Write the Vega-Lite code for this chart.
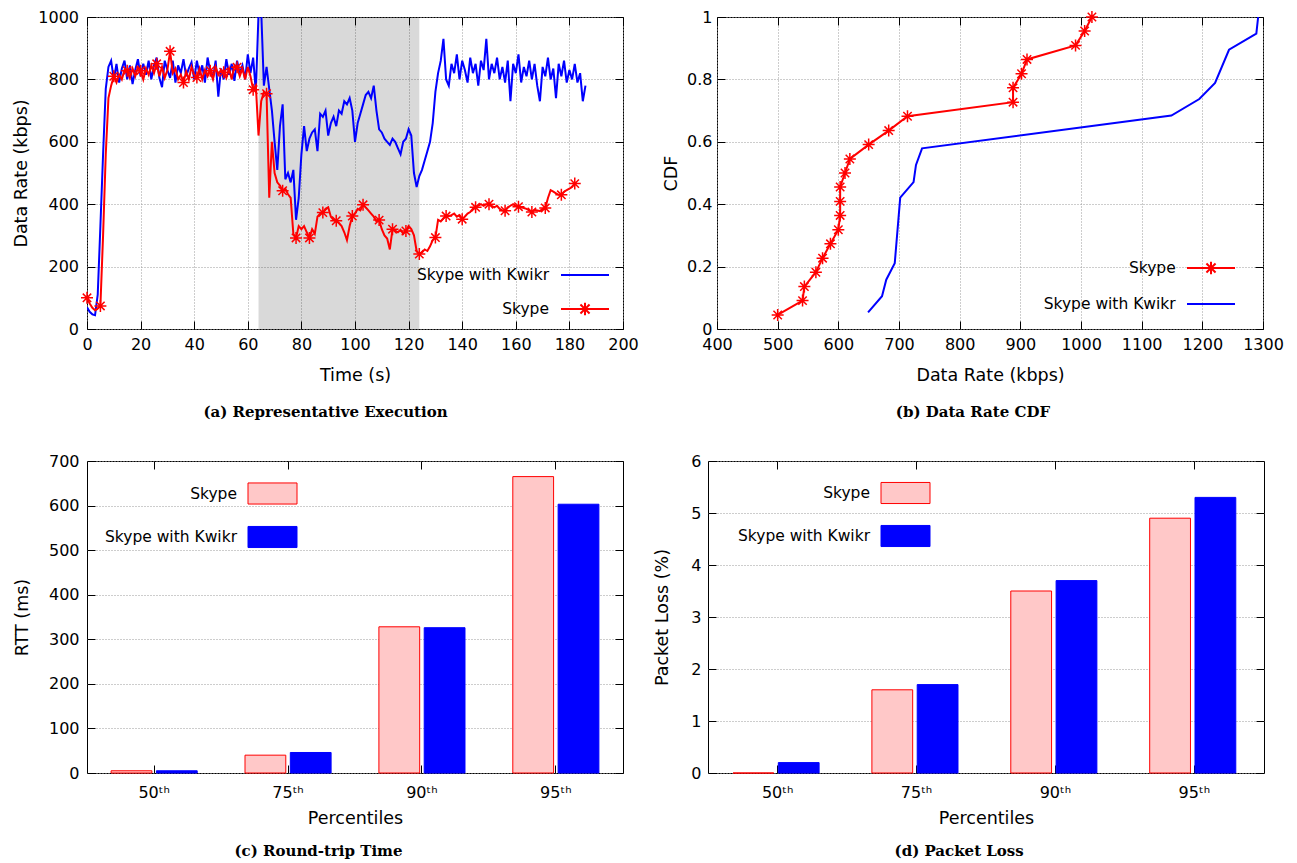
{
"$schema":"https://vega.github.io/schema/vega-lite/v6.json",
"background":"white",
"padding":{"left":12,"top":7,"right":5,"bottom":5},
"config":{
 "view":{"stroke":"#000","strokeWidth":1},
 "axis":{"domain":false,"labelFont":"DejaVu Sans","labelFontSize":16,"labelColor":"#000","titleFont":"DejaVu Sans","titleFontSize":17.5,"titleFontWeight":"normal","titleColor":"#000","tickColor":"#000","tickSize":-8,"tickWidth":1,"gridColor":"#9a9a9a","gridDash":[1,2],"gridWidth":1,"labelFlush":false,"labelOverlap":false,"labelBound":false},
 "legend":{"labelFont":"DejaVu Sans","labelFontSize":15.5,"labelColor":"#000","labelAlign":"right","labelLimit":400,"padding":0},
 "title":{"font":"DejaVu Serif","fontSize":15,"fontWeight":"bold","color":"#000","orient":"bottom","anchor":"middle","frame":"bounds","offset":21}
},
"datasets":{
 "exec":[
{"t":0,"Skype with Kwikr":70,"Skype":100},{"t":1,"Skype with Kwikr":55,"Skype":82},{"t":2,"Skype with Kwikr":47,"Skype":68},{"t":3,"Skype with Kwikr":44,"Skype":60},{"t":4,"Skype with Kwikr":110,"Skype":66},{"t":5,"Skype with Kwikr":330,"Skype":74},{"t":6,"Skype with Kwikr":560,"Skype":300},{"t":7,"Skype with Kwikr":770,"Skype":560},{"t":8,"Skype with Kwikr":840,"Skype":740},{"t":9,"Skype with Kwikr":860,"Skype":780},
{"t":10,"Skype with Kwikr":800,"Skype":810},{"t":11,"Skype with Kwikr":850,"Skype":790},{"t":12,"Skype with Kwikr":790,"Skype":815},{"t":13,"Skype with Kwikr":835,"Skype":800},{"t":14,"Skype with Kwikr":860,"Skype":830},{"t":15,"Skype with Kwikr":800,"Skype":828},{"t":16,"Skype with Kwikr":845,"Skype":805},{"t":17,"Skype with Kwikr":785,"Skype":835},{"t":18,"Skype with Kwikr":830,"Skype":810},{"t":19,"Skype with Kwikr":865,"Skype":840},
{"t":20,"Skype with Kwikr":810,"Skype":828},{"t":21,"Skype with Kwikr":850,"Skype":800},{"t":22,"Skype with Kwikr":815,"Skype":835},{"t":23,"Skype with Kwikr":860,"Skype":815},{"t":24,"Skype with Kwikr":800,"Skype":845},{"t":25,"Skype with Kwikr":845,"Skype":820},{"t":26,"Skype with Kwikr":870,"Skype":850},{"t":27,"Skype with Kwikr":805,"Skype":810},{"t":28,"Skype with Kwikr":775,"Skype":840},{"t":29,"Skype with Kwikr":860,"Skype":805},
{"t":30,"Skype with Kwikr":830,"Skype":830},{"t":31,"Skype with Kwikr":805,"Skype":890},{"t":32,"Skype with Kwikr":860,"Skype":820},{"t":33,"Skype with Kwikr":790,"Skype":835},{"t":34,"Skype with Kwikr":845,"Skype":800},{"t":35,"Skype with Kwikr":820,"Skype":815},{"t":36,"Skype with Kwikr":865,"Skype":790},{"t":37,"Skype with Kwikr":810,"Skype":825},{"t":38,"Skype with Kwikr":835,"Skype":800},{"t":39,"Skype with Kwikr":855,"Skype":840},
{"t":40,"Skype with Kwikr":800,"Skype":815},{"t":41,"Skype with Kwikr":860,"Skype":806},{"t":42,"Skype with Kwikr":815,"Skype":835},{"t":43,"Skype with Kwikr":845,"Skype":800},{"t":44,"Skype with Kwikr":790,"Skype":830},{"t":45,"Skype with Kwikr":870,"Skype":810},{"t":46,"Skype with Kwikr":825,"Skype":828},{"t":47,"Skype with Kwikr":805,"Skype":800},{"t":48,"Skype with Kwikr":860,"Skype":840},{"t":49,"Skype with Kwikr":745,"Skype":815},
{"t":50,"Skype with Kwikr":835,"Skype":830},{"t":51,"Skype with Kwikr":800,"Skype":823},{"t":52,"Skype with Kwikr":865,"Skype":805},{"t":53,"Skype with Kwikr":815,"Skype":835},{"t":54,"Skype with Kwikr":850,"Skype":800},{"t":55,"Skype with Kwikr":795,"Skype":845},{"t":56,"Skype with Kwikr":860,"Skype":839},{"t":57,"Skype with Kwikr":820,"Skype":810},{"t":58,"Skype with Kwikr":845,"Skype":835},{"t":59,"Skype with Kwikr":800,"Skype":800},
{"t":60,"Skype with Kwikr":880,"Skype":840},{"t":61,"Skype with Kwikr":820,"Skype":810},{"t":62,"Skype with Kwikr":870,"Skype":767},{"t":63,"Skype with Kwikr":760,"Skype":780},{"t":64,"Skype with Kwikr":1010,"Skype":620},{"t":65,"Skype with Kwikr":1020,"Skype":730},{"t":66,"Skype with Kwikr":780,"Skype":760},{"t":67,"Skype with Kwikr":840,"Skype":754},{"t":68,"Skype with Kwikr":770,"Skype":421},{"t":69,"Skype with Kwikr":700,"Skype":600},
{"t":70,"Skype with Kwikr":600,"Skype":500},{"t":71,"Skype with Kwikr":510,"Skype":470},{"t":72,"Skype with Kwikr":650,"Skype":460},{"t":73,"Skype with Kwikr":720,"Skype":443},{"t":74,"Skype with Kwikr":480,"Skype":450},{"t":75,"Skype with Kwikr":500,"Skype":432},{"t":76,"Skype with Kwikr":470,"Skype":420},{"t":77,"Skype with Kwikr":510,"Skype":304},{"t":78,"Skype with Kwikr":350,"Skype":292},{"t":79,"Skype with Kwikr":420,"Skype":330},
{"t":80,"Skype with Kwikr":560,"Skype":320},{"t":81,"Skype with Kwikr":650,"Skype":330},{"t":82,"Skype with Kwikr":570,"Skype":310},{"t":83,"Skype with Kwikr":610,"Skype":292},{"t":84,"Skype with Kwikr":630,"Skype":320},{"t":85,"Skype with Kwikr":640,"Skype":305},{"t":86,"Skype with Kwikr":570,"Skype":360},{"t":87,"Skype with Kwikr":690,"Skype":370},{"t":88,"Skype with Kwikr":680,"Skype":373},{"t":89,"Skype with Kwikr":700,"Skype":385},
{"t":90,"Skype with Kwikr":620,"Skype":390},{"t":91,"Skype with Kwikr":660,"Skype":360},{"t":92,"Skype with Kwikr":680,"Skype":350},{"t":93,"Skype with Kwikr":650,"Skype":347},{"t":94,"Skype with Kwikr":700,"Skype":340},{"t":95,"Skype with Kwikr":690,"Skype":330},{"t":96,"Skype with Kwikr":730,"Skype":310},{"t":97,"Skype with Kwikr":720,"Skype":285},{"t":98,"Skype with Kwikr":740,"Skype":330},{"t":99,"Skype with Kwikr":700,"Skype":362},
{"t":100,"Skype with Kwikr":600,"Skype":370},{"t":101,"Skype with Kwikr":660,"Skype":385},{"t":102,"Skype with Kwikr":690,"Skype":380},{"t":103,"Skype with Kwikr":720,"Skype":398},{"t":104,"Skype with Kwikr":750,"Skype":390},{"t":105,"Skype with Kwikr":760,"Skype":380},{"t":106,"Skype with Kwikr":740,"Skype":370},{"t":107,"Skype with Kwikr":780,"Skype":360},{"t":108,"Skype with Kwikr":700,"Skype":345},{"t":109,"Skype with Kwikr":640,"Skype":349},
{"t":110,"Skype with Kwikr":630,"Skype":320},{"t":111,"Skype with Kwikr":610,"Skype":300},{"t":112,"Skype with Kwikr":600,"Skype":290},{"t":113,"Skype with Kwikr":590,"Skype":255},{"t":114,"Skype with Kwikr":610,"Skype":320},{"t":115,"Skype with Kwikr":600,"Skype":315},{"t":116,"Skype with Kwikr":580,"Skype":310},{"t":117,"Skype with Kwikr":560,"Skype":318},{"t":118,"Skype with Kwikr":600,"Skype":305},{"t":119,"Skype with Kwikr":610,"Skype":314},
{"t":120,"Skype with Kwikr":640,"Skype":330},{"t":121,"Skype with Kwikr":620,"Skype":320},{"t":122,"Skype with Kwikr":500,"Skype":300},{"t":123,"Skype with Kwikr":455,"Skype":250},{"t":124,"Skype with Kwikr":490,"Skype":240},{"t":125,"Skype with Kwikr":510,"Skype":245},{"t":126,"Skype with Kwikr":540,"Skype":255},{"t":127,"Skype with Kwikr":570,"Skype":250},{"t":128,"Skype with Kwikr":600,"Skype":265},{"t":129,"Skype with Kwikr":660,"Skype":285},
{"t":130,"Skype with Kwikr":760,"Skype":293},{"t":131,"Skype with Kwikr":820,"Skype":350},{"t":132,"Skype with Kwikr":860,"Skype":345},{"t":133,"Skype with Kwikr":930,"Skype":355},{"t":134,"Skype with Kwikr":800,"Skype":362},{"t":135,"Skype with Kwikr":780,"Skype":362},{"t":136,"Skype with Kwikr":850,"Skype":365},{"t":137,"Skype with Kwikr":820,"Skype":370},{"t":138,"Skype with Kwikr":880,"Skype":360},{"t":139,"Skype with Kwikr":800,"Skype":365},
{"t":140,"Skype with Kwikr":860,"Skype":352},{"t":141,"Skype with Kwikr":830,"Skype":360},{"t":142,"Skype with Kwikr":790,"Skype":370},{"t":143,"Skype with Kwikr":870,"Skype":375},{"t":144,"Skype with Kwikr":820,"Skype":385},{"t":145,"Skype with Kwikr":850,"Skype":390},{"t":146,"Skype with Kwikr":780,"Skype":395},{"t":147,"Skype with Kwikr":860,"Skype":400},{"t":148,"Skype with Kwikr":830,"Skype":395},{"t":149,"Skype with Kwikr":930,"Skype":400},
{"t":150,"Skype with Kwikr":800,"Skype":400},{"t":151,"Skype with Kwikr":850,"Skype":395},{"t":152,"Skype with Kwikr":820,"Skype":390},{"t":153,"Skype with Kwikr":870,"Skype":395},{"t":154,"Skype with Kwikr":800,"Skype":385},{"t":155,"Skype with Kwikr":840,"Skype":380},{"t":156,"Skype with Kwikr":790,"Skype":379},{"t":157,"Skype with Kwikr":860,"Skype":390},{"t":158,"Skype with Kwikr":730,"Skype":395},{"t":159,"Skype with Kwikr":850,"Skype":400},
{"t":160,"Skype with Kwikr":820,"Skype":395},{"t":161,"Skype with Kwikr":880,"Skype":392},{"t":162,"Skype with Kwikr":790,"Skype":390},{"t":163,"Skype with Kwikr":840,"Skype":388},{"t":164,"Skype with Kwikr":810,"Skype":385},{"t":165,"Skype with Kwikr":860,"Skype":380},{"t":166,"Skype with Kwikr":800,"Skype":375},{"t":167,"Skype with Kwikr":850,"Skype":382},{"t":168,"Skype with Kwikr":780,"Skype":380},{"t":169,"Skype with Kwikr":730,"Skype":378},
{"t":170,"Skype with Kwikr":840,"Skype":385},{"t":171,"Skype with Kwikr":810,"Skype":388},{"t":172,"Skype with Kwikr":870,"Skype":420},{"t":173,"Skype with Kwikr":800,"Skype":445},{"t":174,"Skype with Kwikr":835,"Skype":440},{"t":175,"Skype with Kwikr":740,"Skype":435},{"t":176,"Skype with Kwikr":850,"Skype":430},{"t":177,"Skype with Kwikr":810,"Skype":430},{"t":178,"Skype with Kwikr":860,"Skype":440},{"t":179,"Skype with Kwikr":790,"Skype":445},
{"t":180,"Skype with Kwikr":830,"Skype":450},{"t":181,"Skype with Kwikr":800,"Skype":455},{"t":182,"Skype with Kwikr":850,"Skype":466},{"t":183,"Skype with Kwikr":790,"Skype":null},{"t":184,"Skype with Kwikr":820,"Skype":null},{"t":185,"Skype with Kwikr":730,"Skype":null},{"t":186,"Skype with Kwikr":780,"Skype":null}
 ],
 "skypeMarks":[
{"t":0,"v":100},{"t":5,"v":74},{"t":10,"v":810},{"t":15,"v":828},{"t":20,"v":828},{"t":26,"v":850},{"t":31,"v":890},{"t":36,"v":790},{"t":41,"v":806},{"t":46,"v":828},{"t":51,"v":823},{"t":56,"v":839},{"t":62,"v":767},{"t":67,"v":754},{"t":73,"v":443},{"t":78,"v":292},{"t":83,"v":292},{"t":88,"v":373},{"t":93,"v":347},{"t":99,"v":362},{"t":103,"v":398},{"t":109,"v":349},{"t":114,"v":320},{"t":119,"v":314},{"t":124,"v":240},{"t":130,"v":293},{"t":134,"v":362},{"t":140,"v":352},{"t":145,"v":390},{"t":150,"v":400},{"t":156,"v":379},{"t":161,"v":392},{"t":166,"v":375},{"t":171,"v":388},{"t":177,"v":430},{"t":182,"v":466}
 ],
 "cdf":[
{"series":"Skype","rate":500,"cdf":0.045},{"series":"Skype","rate":541,"cdf":0.091},{"series":"Skype","rate":544,"cdf":0.136},{"series":"Skype","rate":563,"cdf":0.182},{"series":"Skype","rate":574,"cdf":0.227},{"series":"Skype","rate":587,"cdf":0.273},{"series":"Skype","rate":600,"cdf":0.318},{"series":"Skype","rate":603,"cdf":0.364},{"series":"Skype","rate":603,"cdf":0.409},{"series":"Skype","rate":603,"cdf":0.455},{"series":"Skype","rate":611,"cdf":0.5},{"series":"Skype","rate":619,"cdf":0.545},{"series":"Skype","rate":650,"cdf":0.591},{"series":"Skype","rate":683,"cdf":0.636},{"series":"Skype","rate":714,"cdf":0.682},{"series":"Skype","rate":888,"cdf":0.727},{"series":"Skype","rate":888,"cdf":0.773},{"series":"Skype","rate":902,"cdf":0.818},{"series":"Skype","rate":911,"cdf":0.864},{"series":"Skype","rate":991,"cdf":0.909},{"series":"Skype","rate":1006,"cdf":0.955},{"series":"Skype","rate":1018,"cdf":1.0},
{"series":"Skype with Kwikr","rate":649,"cdf":0.053},{"series":"Skype with Kwikr","rate":672,"cdf":0.105},{"series":"Skype with Kwikr","rate":679,"cdf":0.158},{"series":"Skype with Kwikr","rate":693,"cdf":0.211},{"series":"Skype with Kwikr","rate":702,"cdf":0.421},{"series":"Skype with Kwikr","rate":724,"cdf":0.471},{"series":"Skype with Kwikr","rate":728,"cdf":0.526},{"series":"Skype with Kwikr","rate":738,"cdf":0.579},{"series":"Skype with Kwikr","rate":1149,"cdf":0.684},{"series":"Skype with Kwikr","rate":1195,"cdf":0.737},{"series":"Skype with Kwikr","rate":1221,"cdf":0.789},{"series":"Skype with Kwikr","rate":1244,"cdf":0.895},{"series":"Skype with Kwikr","rate":1289,"cdf":0.947},{"series":"Skype with Kwikr","rate":1292,"cdf":1.0}
 ],
 "rtt":[
{"pct":"50ᵗʰ","series":"Skype","v":5},{"pct":"50ᵗʰ","series":"Skype with Kwikr","v":5},{"pct":"75ᵗʰ","series":"Skype","v":40},{"pct":"75ᵗʰ","series":"Skype with Kwikr","v":46},{"pct":"90ᵗʰ","series":"Skype","v":328},{"pct":"90ᵗʰ","series":"Skype with Kwikr","v":326},{"pct":"95ᵗʰ","series":"Skype","v":665},{"pct":"95ᵗʰ","series":"Skype with Kwikr","v":603}
 ],
 "loss":[
{"pct":"50ᵗʰ","series":"Skype","v":0},{"pct":"50ᵗʰ","series":"Skype with Kwikr","v":0.2},{"pct":"75ᵗʰ","series":"Skype","v":1.6},{"pct":"75ᵗʰ","series":"Skype with Kwikr","v":1.7},{"pct":"90ᵗʰ","series":"Skype","v":3.5},{"pct":"90ᵗʰ","series":"Skype with Kwikr","v":3.7},{"pct":"95ᵗʰ","series":"Skype","v":4.9},{"pct":"95ᵗʰ","series":"Skype with Kwikr","v":5.3}
 ]
},
"resolve":{"scale":{"color":"independent","fill":"independent","stroke":"independent"},"legend":{"color":"independent","fill":"independent","stroke":"independent"}},
"vconcat":[
 {"resolve":{"scale":{"color":"independent","fill":"independent","stroke":"independent"},"legend":{"color":"independent","fill":"independent","stroke":"independent"}},
  "hconcat":[
  {"width":536,"height":312,
   "title":{"text":"(a) Representative Execution"},
   "layer":[
    {"data":{"values":[{"start":64,"end":124}]},
     "mark":{"type":"rect","fill":"#000","opacity":0.15},
     "encoding":{
      "x":{"field":"start","type":"quantitative","scale":{"domain":[0,200]},"axis":{"orient":"bottom","title":"Time (s)","values":[0,20,40,60,80,100,120,140,160,180,200],"format":"d","grid":true,"labelPadding":15,"titlePadding":14}},
      "x2":{"field":"end"},
      "y":{"datum":0,"type":"quantitative","scale":{"domain":[0,1000]},"axis":{"orient":"left","title":"Data Rate (kbps)","values":[0,200,400,600,800,1000],"format":"d","grid":true,"labelPadding":16.5,"titlePadding":7}},
      "y2":{"datum":1000}}},
    {"data":{"name":"exec"},
     "transform":[{"fold":["Skype with Kwikr","Skype"],"as":["series","v"]},{"filter":"isValid(datum.v)"}],
     "mark":{"type":"line","strokeWidth":2,"clip":true},
     "encoding":{
      "x":{"field":"t","type":"quantitative","axis":null},
      "y":{"field":"v","type":"quantitative","axis":null},
      "color":{"field":"series","type":"nominal","scale":{"domain":["Skype with Kwikr","Skype"],"range":["#0000ff","#ff0000"]},
       "legend":{"title":null,"orient":"none","legendX":473,"legendY":233,"labelOffset":-61,"rowPadding":-1,"symbolSize":2304,"symbolStrokeWidth":2,"symbolType":"stroke",
        "encode":{"symbols":{"update":{"shape":{"signal":"datum.value === 'Skype' ? 'M-1,0H1M0,-0.26V0.26M-0.26,0H0.26M-0.19,-0.19L0.19,0.19M-0.19,0.19L0.19,-0.19' : 'stroke'"}}}}}}}},
    {"data":{"name":"skypeMarks"},
     "mark":{"type":"point","shape":"M-1,0H1M0,-1V1M-0.7,-0.7L0.7,0.7M-0.7,0.7L0.7,-0.7","size":144,"filled":false,"stroke":"#ff0000","strokeWidth":1.5,"opacity":1},
     "encoding":{"x":{"field":"t","type":"quantitative","axis":null},"y":{"field":"v","type":"quantitative","axis":null}}},
    {"data":{"values":[{"start":64,"end":124}]},
     "mark":{"type":"rect","opacity":0},
     "encoding":{
      "x":{"field":"start","type":"quantitative","axis":{"orient":"top","labels":false,"title":null,"grid":false,"values":[0,20,40,60,80,100,120,140,160,180,200]}},
      "x2":{"field":"end"},
      "y":{"datum":0,"type":"quantitative","axis":{"orient":"right","labels":false,"title":null,"grid":false,"values":[0,200,400,600,800,1000]}},
      "y2":{"datum":1000}}}
   ],
   "resolve":{"axis":{"x":"independent","y":"independent"}}
  },
  {"width":546,"height":312,
   "title":{"text":"(b) Data Rate CDF"},
   "data":{"name":"cdf"},
   "layer":[
    {"mark":{"type":"line","strokeWidth":2},
     "encoding":{
      "x":{"field":"rate","type":"quantitative","scale":{"domain":[400,1300]},"axis":{"orient":"bottom","title":"Data Rate (kbps)","values":[400,500,600,700,800,900,1000,1100,1200,1300],"format":"d","grid":true,"labelPadding":15,"titlePadding":14}},
      "y":{"field":"cdf","type":"quantitative","scale":{"domain":[0,1]},"axis":{"orient":"left","title":"CDF","values":[0,0.2,0.4,0.6,0.8,1],"format":"~g","grid":true,"labelPadding":13,"titlePadding":6}},
      "order":{"field":"cdf","type":"quantitative"},
      "color":{"field":"series","type":"nominal","scale":{"domain":["Skype","Skype with Kwikr"],"range":["#ff0000","#0000ff"]},
       "legend":{"title":null,"orient":"none","legendX":469,"legendY":226,"labelOffset":-60.3,"rowPadding":-1,"symbolSize":2304,"symbolStrokeWidth":2,"symbolType":"stroke",
        "encode":{"symbols":{"update":{"shape":{"signal":"datum.value === 'Skype' ? 'M-1,0H1M0,-0.26V0.26M-0.26,0H0.26M-0.19,-0.19L0.19,0.19M-0.19,0.19L0.19,-0.19' : 'stroke'"}}}}}}}},
    {"transform":[{"filter":"datum.series === 'Skype'"}],
     "mark":{"type":"point","shape":"M-1,0H1M0,-1V1M-0.7,-0.7L0.7,0.7M-0.7,0.7L0.7,-0.7","size":144,"filled":false,"stroke":"#ff0000","strokeWidth":1.5,"opacity":1},
     "encoding":{"x":{"field":"rate","type":"quantitative","axis":null},"y":{"field":"cdf","type":"quantitative","axis":null}}},
    {"mark":{"type":"point","opacity":0},
     "encoding":{
      "x":{"field":"rate","type":"quantitative","axis":{"orient":"top","labels":false,"title":null,"grid":false,"values":[400,500,600,700,800,900,1000,1100,1200,1300]}},
      "y":{"field":"cdf","type":"quantitative","axis":{"orient":"right","labels":false,"title":null,"grid":false,"values":[0,0.2,0.4,0.6,0.8,1]}}}}
   ],
   "resolve":{"axis":{"x":"independent","y":"independent"}}
  }
 ],"spacing":23},
 {"resolve":{"scale":{"color":"independent","fill":"independent","stroke":"independent"},"legend":{"color":"independent","fill":"independent","stroke":"independent"}},
  "hconcat":[
  {"width":536,"height":312,
   "title":{"text":"(c) Round-trip Time","offset":17},
   "data":{"name":"rtt"},
   "layer":[
    {"mark":{"type":"bar","strokeWidth":1},
     "encoding":{
      "x":{"field":"pct","type":"nominal","sort":null,"scale":{"paddingInner":0.357,"paddingOuter":0.18},"axis":{"orient":"bottom","title":"Percentiles","labelAngle":0,"grid":false,"labelPadding":19,"titlePadding":9}},
      "xOffset":{"field":"series","type":"nominal","sort":["Skype","Skype with Kwikr"],"scale":{"paddingInner":0.1,"paddingOuter":0}},
      "y":{"field":"v","type":"quantitative","stack":null,"scale":{"domain":[0,700]},"axis":{"orient":"left","title":"RTT (ms)","values":[0,100,200,300,400,500,600,700],"format":"d","grid":true,"labelPadding":16,"titlePadding":17}},
      "fill":{"field":"series","type":"nominal","scale":{"domain":["Skype","Skype with Kwikr"],"range":["#ffc8c8","#0000ff"]},
       "legend":{"title":null,"orient":"none","legendX":160.5,"legendY":7.5,"labelOffset":-60.5,"rowPadding":5.5,"symbolSize":2401,"symbolType":"M-1,-0.43H1V0.43H-1Z","symbolStrokeWidth":1,"symbolOpacity":1,
        "encode":{"symbols":{"update":{"stroke":{"signal":"datum.value === 'Skype' ? '#ff0000' : '#0000ff'"}}}}}},
      "stroke":{"field":"series","type":"nominal","scale":{"domain":["Skype","Skype with Kwikr"],"range":["#ff0000","#0000ff"]},"legend":null}}},
    {"mark":{"type":"bar","opacity":0},
     "encoding":{
      "x":{"field":"pct","type":"nominal","sort":null,"axis":{"orient":"top","labels":false,"title":null,"grid":false}},
      "y":{"field":"v","type":"quantitative","stack":null,"axis":{"orient":"right","labels":false,"title":null,"grid":false,"values":[0,100,200,300,400,500,600,700]}}}}
   ],
   "resolve":{"axis":{"x":"independent","y":"independent"}}
  },
  {"width":556,"height":312,
   "title":{"text":"(d) Packet Loss","offset":17},
   "data":{"name":"loss"},
   "layer":[
    {"mark":{"type":"bar","strokeWidth":1},
     "encoding":{
      "x":{"field":"pct","type":"nominal","sort":null,"scale":{"paddingInner":0.357,"paddingOuter":0.18},"axis":{"orient":"bottom","title":"Percentiles","labelAngle":0,"grid":false,"labelPadding":19,"titlePadding":9}},
      "xOffset":{"field":"series","type":"nominal","sort":["Skype","Skype with Kwikr"],"scale":{"paddingInner":0.1,"paddingOuter":0}},
      "y":{"field":"v","type":"quantitative","stack":null,"scale":{"domain":[0,6]},"axis":{"orient":"left","title":"Packet Loss (%)","values":[0,1,2,3,4,5,6],"format":"d","grid":true,"labelPadding":15,"titlePadding":19}},
      "fill":{"field":"series","type":"nominal","scale":{"domain":["Skype","Skype with Kwikr"],"range":["#ffc8c8","#0000ff"]},
       "legend":{"title":null,"orient":"none","legendX":172.5,"legendY":7,"labelOffset":-60.5,"rowPadding":5,"symbolSize":2401,"symbolType":"M-1,-0.43H1V0.43H-1Z","symbolStrokeWidth":1,"symbolOpacity":1,
        "encode":{"symbols":{"update":{"stroke":{"signal":"datum.value === 'Skype' ? '#ff0000' : '#0000ff'"}}}}}},
      "stroke":{"field":"series","type":"nominal","scale":{"domain":["Skype","Skype with Kwikr"],"range":["#ff0000","#0000ff"]},"legend":null}}},
    {"mark":{"type":"bar","opacity":0},
     "encoding":{
      "x":{"field":"pct","type":"nominal","sort":null,"axis":{"orient":"top","labels":false,"title":null,"grid":false}},
      "y":{"field":"v","type":"quantitative","stack":null,"axis":{"orient":"right","labels":false,"title":null,"grid":false,"values":[0,1,2,3,4,5,6]}}}}
   ],
   "resolve":{"axis":{"x":"independent","y":"independent"}}
  }
 ],"spacing":29}
],
"spacing":32
}
